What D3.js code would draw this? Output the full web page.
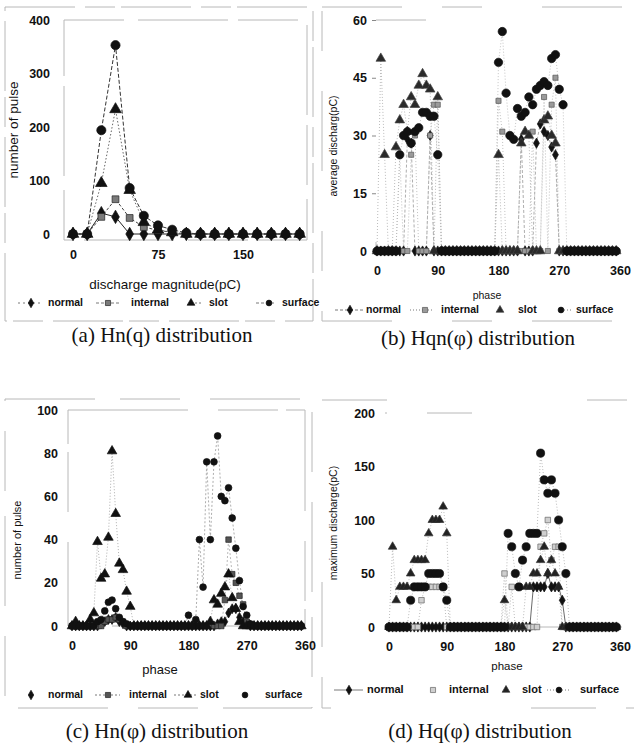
<!DOCTYPE html>
<html>
<head>
<meta charset="utf-8">
<script src="https://cdn.jsdelivr.net/npm/d3@7"></script>
<style>
  body { margin: 0; background: #fff; }
  svg text { font-family: "Liberation Sans", Arial, sans-serif; fill: #111; }
  svg text.cap { font-family: "Liberation Serif", "Times New Roman", serif; }
</style>
</head>
<body>
<svg id="fig" width="634" height="751"></svg>
<script>
// ---- data ----
const seriesNames = ["normal", "internal", "slot", "surface"];

// (a) Hn(q): number of pulses per discharge-magnitude window (pC)
const magnitudes = [0, 12.5, 25, 37.5, 50, 62.5, 75, 87.5, 100, 112.5, 125, 137.5, 150, 162.5, 175, 187.5, 200];
const hnqNormal   = [0, 0, 39, 32, 0, 0, 0, 0, 0, 0, 0, 0, 0, 0, 0, 0, 0];
const hnqInternal = [0, 0, 32, 65, 30, 13, 7, 3, 0, 0, 0, 0, 0, 0, 0, 0, 0];
const hnqSlot     = [0, 0, 95, 233, 82, 22, 8, 3, 0, 0, 0, 0, 0, 0, 0, 0, 0];
const hnqSurface  = [0, 0, 194, 353, 86, 34, 16, 8, 2, 0, 0, 0, 0, 0, 0, 0, 0];

// phase windows (64 windows over one cycle)
const PHASE_STEP = 5.625;
const phases = d3.range(64).map(i => i * PHASE_STEP);

// (b) Hqn(phi): average discharge (pC)
const hqnNormal = [
  0, 0, 0, 0, 0, 0, 0, 0, 29, 28, 0, 0, 0, 0, 30, 0,
  0, 0, 0, 0, 0, 0, 0, 0, 0, 0, 0, 0, 0, 0, 0, 0,
  0, 0, 0, 0, 0, 0, 29, 0, 0, 0, 28, 33, 31, 30, 27, 25,
  0, 0, 0, 0, 0, 0, 0, 0, 0, 0, 0, 0, 0, 0, 0, 0];
const hqnInternal = [
  0, 0, 0, 0, 0, 0, 25, 0, 0, 25, 30, 0, 0, 0, 30, 38,
  38, 0, 0, 0, 0, 0, 0, 0, 0, 0, 0, 0, 0, 0, 0, 0,
  39, 31, 0, 0, 0, 0, 0, 0, 0, 31, 0, 0, 40, 0, 38, 45,
  0, 0, 0, 0, 0, 0, 0, 0, 0, 0, 0, 0, 0, 0, 0, 0];
const hqnSlot = [
  0, 50, 25, 0, 0, 27, 34, 38, 31, 40, 38, 43, 46, 43, 42, 0,
  40, 0, 0, 0, 0, 0, 0, 0, 0, 0, 0, 0, 0, 0, 0, 0,
  25, 0, 0, 0, 0, 0, 28, 31, 30, 0, 0, 0, 34, 35, 30, 28,
  0, 0, 0, 0, 0, 0, 0, 0, 0, 0, 0, 0, 0, 0, 0, 0];
const hqnSurface = [
  0, 0, 0, 0, 0, 0, 25, 30, 31, 28, 31, 32, 36, 36, 35, 35,
  25, 0, 0, 0, 0, 0, 0, 0, 0, 0, 0, 0, 0, 0, 0, 0,
  49, 57, 41, 30, 29, 37, 35, 36, 40, 38, 42, 43, 44, 43, 50, 51,
  42, 38, 0, 0, 0, 0, 0, 0, 0, 0, 0, 0, 0, 0, 0, 0];

// (c) Hn(phi): number of pulses
const hnNormal = [
  0, 0, 0, 0, 0, 0, 0, 0, 1, 2, 3, 3, 4, 2, 1, 0,
  0, 0, 0, 0, 0, 0, 0, 0, 0, 0, 0, 0, 0, 0, 0, 0,
  0, 0, 0, 0, 0, 0, 0, 0, 1, 2, 2, 6, 8, 8, 4, 2,
  1, 0, 0, 0, 0, 0, 0, 0, 0, 0, 0, 0, 0, 0, 0, 0];
const hnInternal = [
  0, 0, 0, 0, 0, 0, 0, 0, 0, 2, 3, 3, 4, 3, 2, 0,
  0, 0, 0, 0, 0, 0, 0, 0, 0, 0, 0, 0, 0, 0, 0, 0,
  0, 0, 0, 0, 0, 0, 0, 0, 0, 0, 12, 40, 24, 20, 14, 10,
  2, 0, 0, 0, 0, 0, 0, 0, 0, 0, 0, 0, 0, 0, 0, 0];
const hnSlot = [
  0, 2, 0, 0, 0, 3, 6, 39, 22, 24, 41, 81, 52, 29, 26, 16,
  9, 0, 0, 0, 0, 0, 0, 0, 0, 0, 0, 0, 0, 0, 0, 0,
  0, 0, 0, 0, 0, 0, 2, 12, 10, 15, 18, 24, 13, 8, 2, 0,
  0, 0, 0, 0, 0, 0, 0, 0, 0, 0, 0, 0, 0, 0, 0, 0];
const hnSurface = [
  0, 0, 0, 0, 0, 0, 0, 2, 3, 7, 11, 12, 8, 4, 2, 1,
  0, 0, 0, 0, 0, 0, 0, 0, 0, 0, 0, 0, 0, 0, 0, 0,
  5, 0, 3, 40, 18, 76, 40, 76, 88, 60, 58, 64, 50, 36, 21, 9,
  5, 1, 0, 0, 0, 0, 0, 0, 0, 0, 0, 0, 0, 0, 0, 0];

// (d) Hq(phi): maximum discharge (pC)
const hqNormal = [
  0, 0, 0, 0, 0, 0, 0, 0, 0, 0, 0, 0, 0, 0, 0, 0,
  0, 0, 0, 0, 0, 0, 0, 0, 0, 0, 0, 0, 0, 0, 0, 0,
  0, 0, 0, 0, 0, 0, 0, 0, 37.5, 37.5, 37.5, 37.5, 50, 37.5, 37.5, 37.5,
  25, 0, 0, 0, 0, 0, 0, 0, 0, 0, 0, 0, 0, 0, 0, 0];
const hqInternal = [
  0, 0, 0, 0, 0, 0, 0, 0, 0, 25, 37.5, 37.5, 37.5, 37.5, 37.5, 37.5,
  0, 0, 0, 0, 0, 0, 0, 0, 0, 0, 0, 0, 0, 0, 0, 0,
  50, 0, 37.5, 0, 0, 0, 0, 0, 0, 0, 75, 87.5, 100, 62.5, 75, 75,
  0, 0, 0, 0, 0, 0, 0, 0, 0, 0, 0, 0, 0, 0, 0, 0];
const hqSlot = [
  0, 75, 25, 37.5, 37.5, 37.5, 50, 62.5, 62.5, 62.5, 62.5, 87.5, 100, 100, 100, 112.5,
  87.5, 0, 0, 0, 0, 0, 0, 0, 0, 0, 0, 0, 0, 0, 0, 0,
  25, 0, 0, 0, 0, 0, 37.5, 37.5, 50, 50, 62.5, 75, 50, 62.5, 50, 37.5,
  0, 0, 0, 0, 0, 0, 0, 0, 0, 0, 0, 0, 0, 0, 0, 0];
const hqSurface = [
  0, 0, 0, 0, 0, 0, 25, 37.5, 37.5, 37.5, 37.5, 50, 50, 50, 50, 37.5,
  25, 0, 0, 0, 0, 0, 0, 0, 0, 0, 0, 0, 0, 0, 0, 0,
  0, 87.5, 75, 50, 37.5, 62.5, 75, 87.5, 87.5, 87.5, 162.5, 137.5, 125, 137.5, 125, 100,
  75, 50, 0, 0, 0, 0, 0, 0, 0, 0, 0, 0, 0, 0, 0, 0];

const magTicks = [0, 75, 150];
const phaseTicks = [0, 90, 180, 270, 360];

const svg = d3.select("#fig");

const symbols = {
  normal: d3.symbolDiamond,
  internal: d3.symbolSquare,
  slot: d3.symbolTriangle,
  surface: d3.symbolCircle
};

function drawPanel(p) {
  const g = svg.append("g");
  const x = d3.scaleLinear().domain(p.xDomain).range(p.xRange);
  const y = d3.scaleLinear().domain(p.yDomain).range(p.yRange);

  // faded borders of the scanned chart
  p.frames.forEach(f => {
    g.append("rect")
      .attr("x", f[0]).attr("y", f[1])
      .attr("width", f[2]).attr("height", f[3])
      .attr("fill", "none")
      .attr("stroke", "#b8b8b8")
      .attr("stroke-width", 1)
      .attr("stroke-dasharray", f[4] || null);
  });

  // y axis
  const ya = g.append("g")
    .attr("transform", `translate(${p.axisX},0)`)
    .call(d3.axisLeft(y).tickValues(p.yTicks).tickSize(p.tickLen).tickPadding(p.yPad));
  ya.select(".domain").remove();
  ya.selectAll("line").attr("stroke", "#888");
  ya.selectAll("text").attr("font-size", 12.5).attr("font-weight", "bold")
    .attr("font-family", "Liberation Sans, Arial, sans-serif").attr("fill", "#111");

  // x axis
  const xa = g.append("g")
    .attr("transform", `translate(0,${y(0)})`)
    .call(d3.axisBottom(x).tickValues(p.xTicks).tickSize(0).tickPadding(p.xPad));
  xa.select(".domain").remove();
  xa.selectAll("text").attr("font-size", 12.5).attr("font-weight", "bold")
    .attr("font-family", "Liberation Sans, Arial, sans-serif").attr("fill", "#111");

  const line = d3.line().x(d => x(d[0])).y(d => y(d[1]));

  p.series.forEach(s => {
    const pts = p.xs.map((v, i) => [v, s.values[i]]);
    g.append("path")
      .datum(pts)
      .attr("d", line)
      .attr("fill", "none")
      .attr("stroke", s.stroke)
      .attr("stroke-width", s.width)
      .attr("stroke-dasharray", s.dash);
  });

  p.series.forEach(s => {
    const pts = p.xs.map((v, i) => [v, s.values[i]]);
    g.append("g").selectAll("path")
      .data(pts)
      .join("path")
      .attr("transform", d => `translate(${x(d[0])},${y(d[1])})`)
      .attr("d", d3.symbol().type(symbols[s.name]).size(s.size))
      .attr("fill", s.fill)
      .attr("stroke", s.mstroke)
      .attr("stroke-width", 0.7);
  });

  // axis titles
  g.append("text")
    .attr("transform", `translate(${p.yTitle[0]},${p.yTitle[1]}) rotate(-90)`)
    .attr("text-anchor", "middle")
    .attr("font-size", p.yTitle[3])
    .text(p.yTitle[2]);

  g.append("text")
    .attr("x", p.xTitle[0]).attr("y", p.xTitle[1])
    .attr("text-anchor", "middle")
    .attr("dominant-baseline", "middle")
    .attr("font-size", p.xTitle[3])
    .text(p.xTitle[2]);

  // legend
  p.legend.forEach((it, i) => {
    const s = p.series[i];
    if (it.line) {
      g.append("line")
        .attr("x1", it.line[0]).attr("x2", it.line[1])
        .attr("y1", p.legendY).attr("y2", p.legendY)
        .attr("stroke", "#555")
        .attr("stroke-width", 0.8)
        .attr("stroke-dasharray", it.dash || null);
    }
    g.append("path")
      .attr("transform", `translate(${it.mx},${p.legendY})`)
      .attr("d", d3.symbol().type(symbols[s.name]).size(it.size || 26))
      .attr("fill", s.fill)
      .attr("stroke", s.mstroke)
      .attr("stroke-width", 0.7);
    g.append("text")
      .attr("x", it.tx).attr("y", p.legendY)
      .attr("dominant-baseline", "middle")
      .attr("font-size", p.legendSize)
      .attr("font-weight", "bold")
      .text(s.name);
  });

  g.append("text")
    .attr("class", "cap")
    .attr("x", p.caption[0]).attr("y", p.caption[1])
    .attr("text-anchor", "middle")
    .attr("dominant-baseline", "middle")
    .attr("font-size", 21)
    .text(p.caption[2]);
}

function makeSeries(values, styles) {
  return seriesNames.map((name, i) => Object.assign({ name: name, values: values[i] }, styles[i]));
}

// (a)
drawPanel({
  xs: magnitudes,
  xDomain: [0, 150], xRange: [73, 243],
  yDomain: [0, 400], yRange: [234, 20],
  xTicks: magTicks, yTicks: [0, 100, 200, 300, 400],
  axisX: 58, tickLen: 0, yPad: 8, xPad: 16,
  frames: [[5, 7, 308, 314, "70,10,30,6"], [64, 20, 243, 220, "60,14,90,10"]],
  series: makeSeries([hnqNormal, hnqInternal, hnqSlot, hnqSurface], [
    { stroke: "#222", width: 1, dash: null, size: 52, fill: "#111", mstroke: "#111" },
    { stroke: "#444", width: 1, dash: "3,2", size: 46, fill: "#7a7a7a", mstroke: "#222" },
    { stroke: "#666", width: 1, dash: "1.5,2", size: 58, fill: "#111", mstroke: "#111" },
    { stroke: "#333", width: 1, dash: "4,2", size: 66, fill: "#111", mstroke: "#111" }
  ]),
  yTitle: [18, 130, "number of pulse", 13.5],
  xTitle: [165, 285, "discharge magnitude(pC)", 13.5],
  legendY: 303, legendSize: 10.5,
  legend: [
    { mx: 31, tx: 48, line: [18, 42], dash: "2,3" },
    { mx: 108, tx: 131, line: [96, 120], dash: "3,2" },
    { mx: 191, tx: 209, line: [191, 203], dash: "2,2" },
    { mx: 269, tx: 282, line: [256, 276], dash: "3,2" }
  ],
  caption: [162, 337, "(a) Hn(q) distribution"]
});

// (b)
drawPanel({
  xs: phases,
  xDomain: [0, 360], xRange: [377, 620],
  yDomain: [0, 60], yRange: [251, 20],
  xTicks: phaseTicks, yTicks: [0, 15, 30, 45, 60],
  axisX: 376, tickLen: 4, yPad: 5, xPad: 15,
  frames: [[322, 7, 318, 314, "80,40,40,60"], [376, 20, 260, 231, "50,300,2,3"]],
  series: makeSeries([hqnNormal, hqnInternal, hqnSlot, hqnSurface], [
    { stroke: "#999", width: 0.8, dash: "3,2", size: 30, fill: "#111", mstroke: "#111" },
    { stroke: "#b0b0b0", width: 0.8, dash: "1,2", size: 26, fill: "#9a9a9a", mstroke: "#555" },
    { stroke: "#aaa", width: 0.8, dash: "1,2", size: 40, fill: "#2a2a2a", mstroke: "#444" },
    { stroke: "#b5b5b5", width: 0.8, dash: "1,2", size: 55, fill: "#111", mstroke: "#111" }
  ]),
  yTitle: [337, 146, "average discharg(pC)", 10.5],
  xTitle: [487, 296, "phase", 10.5],
  legendY: 310, legendSize: 10.5,
  legend: [
    { mx: 350, tx: 366, line: [335, 364], dash: "3,2" },
    { mx: 425, tx: 441, line: [410, 432], dash: "1,2" },
    { mx: 500, tx: 518 },
    { mx: 561, tx: 576, line: [561, 573], dash: "1,2" }
  ],
  caption: [478, 340, "(b) Hqn(\u03c6) distribution"]
});

// (c)
drawPanel({
  xs: phases,
  xDomain: [0, 360], xRange: [72, 305],
  yDomain: [0, 100], yRange: [626, 410],
  xTicks: phaseTicks, yTicks: [0, 20, 40, 60, 80, 100],
  axisX: 66, tickLen: 0, yPad: 8, xPad: 15,
  frames: [[5, 399, 307, 309, "90,25,60,30"], [68, 410, 237, 216, "120,30,60,8"]],
  series: makeSeries([hnNormal, hnInternal, hnSlot, hnSurface], [
    { stroke: "#999", width: 0.8, dash: "2,2", size: 28, fill: "#111", mstroke: "#111" },
    { stroke: "#aaa", width: 0.8, dash: "2,2", size: 30, fill: "#555", mstroke: "#222" },
    { stroke: "#999", width: 0.8, dash: "1,2", size: 40, fill: "#111", mstroke: "#111" },
    { stroke: "#999", width: 0.8, dash: "2,2", size: 36, fill: "#111", mstroke: "#111" }
  ]),
  yTitle: [21, 540, "number of pulse", 11],
  xTitle: [160, 671, "phase", 13],
  legendY: 695, legendSize: 10.5,
  legend: [
    { mx: 31, tx: 48 },
    { mx: 108, tx: 129, line: [95, 120], dash: "2,2" },
    { mx: 188, tx: 200, line: [174, 198], dash: "2,2" },
    { mx: 245, tx: 265 }
  ],
  caption: [157, 733, "(c) Hn(\u03c6) distribution"]
});

// (d)
drawPanel({
  xs: phases,
  xDomain: [0, 360], xRange: [389, 620],
  yDomain: [0, 200], yRange: [627, 413],
  xTicks: phaseTicks, yTicks: [0, 50, 100, 150, 200],
  axisX: 384, tickLen: 0, yPad: 9, xPad: 15,
  frames: [[322, 400, 318, 308, "65,200,40,30"], [385, 413, 255, 214, "2,40,45,400"]],
  series: makeSeries([hqNormal, hqInternal, hqSlot, hqSurface], [
    { stroke: "#444", width: 0.8, dash: null, size: 30, fill: "#111", mstroke: "#111" },
    { stroke: "#aaa", width: 0.8, dash: "1,2", size: 30, fill: "#cfcfcf", mstroke: "#666" },
    { stroke: "#aaa", width: 0.8, dash: "1,2", size: 32, fill: "#222", mstroke: "#333" },
    { stroke: "#aaa", width: 0.8, dash: "1,2", size: 52, fill: "#111", mstroke: "#111" }
  ]),
  yTitle: [337, 523, "maximum discharge(pC)", 10.5],
  xTitle: [507, 667, "phase", 11.5],
  legendY: 690, legendSize: 11,
  legend: [
    { mx: 349, tx: 367, line: [334, 363], dash: null },
    { mx: 433, tx: 449 },
    { mx: 506, tx: 522 },
    { mx: 559, tx: 580, line: [547, 571], dash: "1,2" }
  ],
  caption: [480, 733, "(d) Hq(\u03c6) distribution"]
});
</script>
</body>
</html>
